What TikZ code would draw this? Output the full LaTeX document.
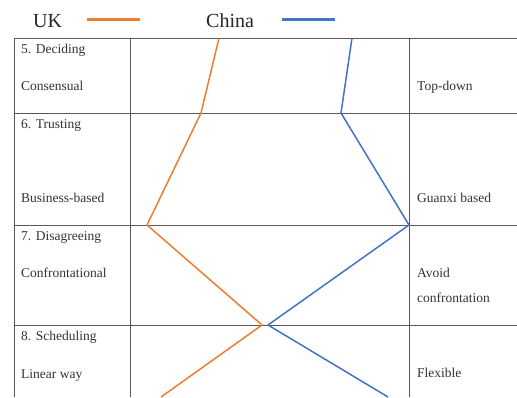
\documentclass[tikz,border=0pt]{standalone}
\usepackage{fontspec}
\setmainfont{Liberation Serif}
\definecolor{ukorange}{RGB}{237,125,49}
\definecolor{cnblue}{RGB}{68,114,196}
\begin{document}
\begin{tikzpicture}[x=1pt,y=-1pt,
  grid/.style={draw=black!65,line width=0.9pt},
  cell/.style={anchor=base west,inner sep=0pt,text=black!80,font=\fontsize{13.5}{16}\selectfont},
  legtext/.style={anchor=base west,inner sep=0pt,text=black!85,font=\fontsize{20}{24}\selectfont},
  ukline/.style={draw=ukorange,line width=1.5pt},
  cnline/.style={draw=cnblue,line width=1.5pt},
  legline/.style={line width=2.4pt}]
\useasboundingbox (0,0) rectangle (517,397);
% legend
\node[legtext] (uk) at (33,27) {UK};
\coordinate (uka) at (87,19.5); \coordinate (ukb) at (140,19.5);
\draw[ukline,legline] (uka) -- (ukb);
\node[legtext] (cn) at (206,27) {China};
\coordinate (cna) at (282,19.5); \coordinate (cnb) at (335,19.5);
\draw[cnline,legline] (cna) -- (cnb);
% table grid
\draw[grid] (14,38) -- (517,38);
\draw[grid] (14,113) -- (517,113);
\draw[grid] (14,225) -- (517,225);
\draw[grid] (14,325) -- (517,325);
\draw[grid] (14,38) -- (14,397);
\draw[grid] (130,38) -- (130,397);
\draw[grid] (409,38) -- (409,397);
% left column
\node[cell] (l1) at (21,53) {5. Deciding};
\node[cell] (l2) at (21,90) {Consensual};
\node[cell] (l3) at (21,128) {6. Trusting};
\node[cell] (l4) at (21,202) {Business-based};
\node[cell] (l5) at (21,240) {7. Disagreeing};
\node[cell] (l6) at (21,277) {Confrontational};
\node[cell] (l7) at (21,340) {8. Scheduling};
\node[cell] (l8) at (21,378) {Linear way};
% right column
\node[cell] (r1) at (417,90) {Top-down};
\node[cell] (r2) at (417,202) {Guanxi based};
\node[cell] (r3) at (417,277) {Avoid};
\node[cell] (r4) at (417,302) {confrontation};
\node[cell] (r5) at (417,377) {Flexible};
% UK profile
\coordinate (u0) at (219,38);
\coordinate (u1) at (201,113);
\coordinate (u2) at (147,225);
\coordinate (u3) at (262,325);
\coordinate (u4) at (161,397);
\draw[ukline] (u0) -- (u1) -- (u2) -- (u3) -- (u4);
% China profile
\coordinate (c0) at (352,38);
\coordinate (c1) at (341,113);
\coordinate (c2) at (409,225);
\coordinate (c3) at (268,325);
\coordinate (c4) at (388,397);
\draw[cnline] (c0) -- (c1) -- (c2) -- (c3) -- (c4);
\end{tikzpicture}
\end{document}
